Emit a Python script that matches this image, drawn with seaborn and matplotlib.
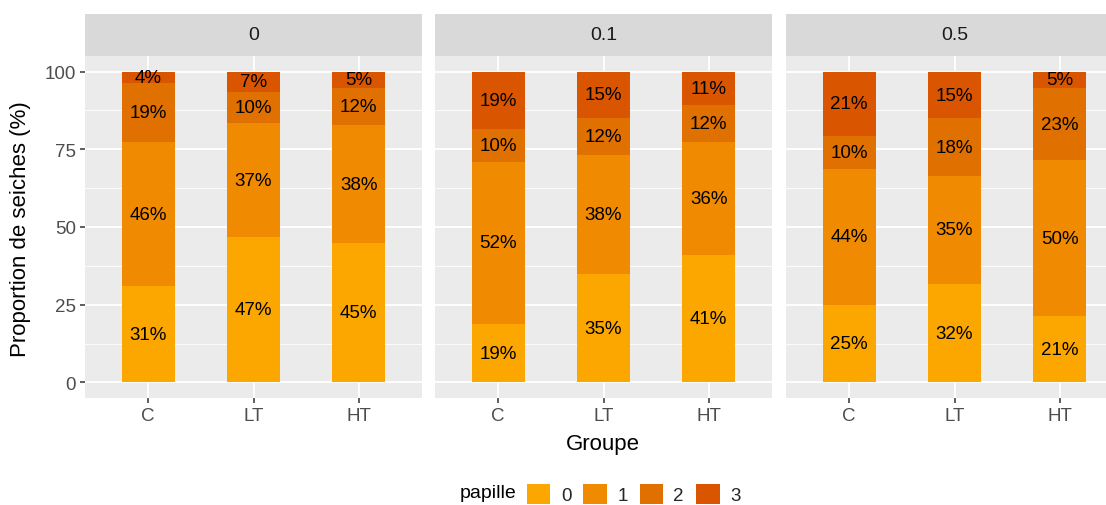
import matplotlib
matplotlib.use("Agg")
import matplotlib.pyplot as plt
from matplotlib.patches import Patch
from matplotlib.ticker import MultipleLocator
import seaborn as sns
import pandas as pd

# ---- data ----
groups = ["C", "LT", "HT"]
doses = ["0", "0.1", "0.5"]
papille_levels = ["0", "1", "2", "3"]
# percentages per group (C, LT, HT), each row = papille 0,1,2,3
dose_0 = [[31.0, 46.2, 19.0, 3.8],
          [46.7, 36.7, 10.0, 6.6],
          [44.8, 38.0, 12.0, 5.2]]
dose_01 = [[18.8, 52.2, 10.4, 18.6],
           [35.0, 38.3, 11.7, 15.0],
           [40.9, 36.4, 11.8, 10.9]]
dose_05 = [[25.0, 43.8, 10.4, 20.8],
           [31.6, 34.9, 18.4, 15.1],
           [21.4, 50.0, 23.2, 5.4]]
colors = ["#FCA600", "#F08A00", "#E07000", "#DA5500"]

rows = []
for dose, mat in zip(doses, [dose_0, dose_01, dose_05]):
    for g, vals in zip(groups, mat):
        cum = 0.0
        for lvl, v in zip(papille_levels, vals):
            rows.append(dict(dose=dose, Groupe=g, papille=lvl, pct=v,
                             bottom=cum, top=cum + v))
            cum += v
df = pd.DataFrame(rows)

sns.set_theme(style="white")
plt.rcParams["font.family"] = ["Liberation Sans", "DejaVu Sans"]

W, H = 1106, 506
fig = plt.figure(figsize=(W / 100, H / 100), dpi=100)

def fx(px):
    return px / W

def fy(py):
    return 1 - py / H

panel_lefts = [85, 435, 786]
panel_w = 337
p_top, p_bot = 57, 399
s_top = 15

for i, (dose, left) in enumerate(zip(doses, panel_lefts)):
    ax = fig.add_axes([fx(left), fy(p_bot), panel_w / W, (p_bot - p_top) / H])
    ax.set_facecolor("#EBEBEB")
    sub = df[df.dose == dose]
    for k in range(len(papille_levels) - 1, -1, -1):
        d = sub[sub.papille == papille_levels[k]]
        sns.barplot(data=d, x="Groupe", y="top", order=groups, color=colors[k],
                    width=0.5, saturation=1, linewidth=0, ax=ax, zorder=3)
    for _, r in sub.iterrows():
        xi = groups.index(r.Groupe)
        ax.text(xi, (r.bottom + r.top) / 2, f"{round(r.pct):.0f}%",
                ha="center", va="center", fontsize=13.5, color="black", zorder=4)
    ax.set_xlim(-0.6, 2.6)
    ax.set_ylim(-5, 105)
    ax.yaxis.set_major_locator(MultipleLocator(25))
    ax.yaxis.set_minor_locator(MultipleLocator(12.5))
    ax.grid(which="major", color="white", linewidth=1.3, zorder=0)
    ax.grid(which="minor", axis="y", color="white", linewidth=0.6, zorder=0)
    ax.set_axisbelow(True)
    for s in ax.spines.values():
        s.set_visible(False)
    ax.set_xlabel("")
    ax.set_ylabel("")
    ax.tick_params(axis="both", which="major", length=3.5, width=1.1,
                   color="#333333", labelcolor="#4D4D4D", labelsize=13.5,
                   pad=3, left=(i == 0), bottom=True)
    ax.tick_params(axis="both", which="minor", length=0)
    if i > 0:
        ax.set_yticklabels([])
    # strip
    sax = fig.add_axes([fx(left), fy(p_top), panel_w / W, (p_top - s_top) / H])
    sax.set_facecolor("#D9D9D9")
    sax.set_xticks([])
    sax.set_yticks([])
    for s in sax.spines.values():
        s.set_visible(False)
    sax.text(0.5, 0.5, dose, transform=sax.transAxes, ha="center", va="center",
             fontsize=14, color="#1A1A1A")

fig.text(fx(21), fy((p_top + p_bot) / 2 + 1), "Proportion de seiches (%)",
         rotation=90, ha="center", va="center", fontsize=16, color="black")
fig.text(fx(603), fy(445), "Groupe", ha="center", va="center",
         fontsize=16, color="black")

fig.text(fx(488), fy(494), "papille", ha="center", va="center",
         fontsize=14, color="black")
handles = [Patch(facecolor=c, edgecolor="none", label=l)
           for c, l in zip(colors, papille_levels)]
fig.legend(handles=handles, loc="center left", bbox_to_anchor=(fx(527), fy(495)),
           ncol=4, frameon=False, fontsize=13.5, handlelength=1.25,
           handleheight=1.25, handletextpad=0.55, columnspacing=0.65,
           borderaxespad=0, borderpad=0)

fig.savefig("out.png", dpi=100)
